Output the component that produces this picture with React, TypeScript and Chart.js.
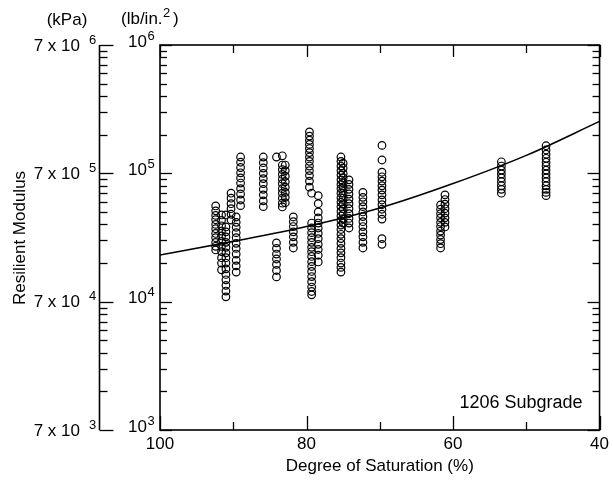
import React, { useEffect, useRef } from 'react';
import { Chart, registerables } from 'chart.js';

Chart.register(...registerables);

const FONT = 'Arial, "Liberation Sans", Helvetica, sans-serif';

// Axis ticks
const xMajorTicks = [100, 80, 60, 40];
const xMinorTicks = [90, 70, 50];
const yDecades = [1e3, 1e4, 1e5, 1e6];
const yExponents = ['3', '4', '5', '6'];
const yMinorMultipliers = [2, 3, 4, 5, 6, 7, 8, 9];
const psiBase = '10';
const kpaBase = '7 x 10';

// Scatter columns: degree of saturation (%) and resilient modulus (psi)
const columnSaturation = [
  92.4, 91.6, 91.0, 90.3, 89.6, 89.0, 85.9, 84.1, 83.3, 82.9, 81.8, 79.6, 79.3, 78.4,
  75.3, 75.0, 74.2, 72.3, 69.7, 61.7, 61.1, 53.4, 47.3,
];
const columnModulus = [
  [55700, 51000, 47000, 43500, 40000, 37000, 34000, 31500, 29000, 27000, 25300],
  [47400, 43000, 39000, 35500, 32500, 29500, 27000, 24500, 22000, 20000, 17700],
  [47400, 38200, 35000, 32000, 29000, 26500, 24000, 22000, 20000, 18000, 16300, 14800, 13400, 12100, 10900],
  [70000, 64000, 58000, 53000, 48000, 43300],
  [45700, 41500, 38000, 34500, 31500, 28500, 26000, 23500, 21000, 19000, 17000],
  [134000, 122000, 111000, 101000, 92000, 84000, 76000, 69000, 62000, 56000],
  [134000, 121000, 110000, 100000, 91000, 83000, 75000, 68000, 61000, 55000],
  [134000, 28700, 26000, 23500, 21500, 19500, 17500, 15600],
  [137000, 116000, 107000, 98000, 90000, 83000, 76000, 70000, 64000, 58500, 54700],
  [116000, 105000, 95000, 86000, 78000, 71000, 65000, 59000],
  [45700, 42000, 38500, 35000, 32000, 29000, 26200],
  [210000, 195000, 181000, 168000, 156000, 145000, 134000, 124000, 114000, 105000, 96000, 87000, 78000],
  [70000, 41000, 37500, 34500, 31500, 29000, 26500, 24500, 22500, 20500, 18800, 17200, 15700, 14300, 13000, 12000, 11300],
  [67000, 58000, 50000, 45000, 41000, 37500, 34000, 31000, 28000, 25500, 23000, 20400],
  [134000, 124000, 114000, 105000, 97000, 89000, 82000, 76000, 70000, 64500, 59500, 55000, 50500, 46500, 43000, 39500, 36500, 33500, 31000, 28500, 26000, 24000, 22000, 20000, 18500, 17000],
  [120000, 110000, 100000, 92000, 84000, 77000, 70000, 64000, 58000, 53000, 48000, 44000, 41000],
  [89000, 82000, 75000, 69000, 63000, 58000, 53000, 48500, 44500, 41000, 37500],
  [71000, 65000, 60000, 55000, 50000, 46000, 42000, 38500, 35000, 32000, 29000, 26200],
  [165000, 127000, 102000, 94000, 87000, 80000, 74000, 68000, 62000, 57000, 52500, 48000, 44000, 31000, 28000],
  [56700, 52500, 48500, 45000, 41500, 38500, 35500, 33000, 30500, 28300, 26200],
  [68000, 62500, 57500, 53000, 49000, 45000, 41500, 38200],
  [123000, 114000, 106000, 99000, 92000, 86000, 80000, 75000, 70000],
  [164000, 152000, 141000, 131000, 122000, 114000, 106000, 99000, 92000, 86000, 80000, 75000, 71000, 67000],
];

// Fitted trend curve
const curveSaturation = [100, 90, 80, 70, 60, 50, 40];
const curveModulus = [23100, 29500, 38500, 53700, 83200, 138000, 254000];

const annotationText = '1206 Subgrade';
const xTitle = 'Degree of Saturation (%)';
const yTitle = 'Resilient Modulus';

const axesPlugin = {
  id: 'customAxes',
  afterDraw(chart: any) {
    const { ctx, chartArea } = chart;
    const { left, right, top, bottom } = chartArea;
    const xs = chart.scales.x;
    const ys = chart.scales.y;
    const kpaX = 99.5;
    ctx.save();
    ctx.strokeStyle = '#000';
    ctx.fillStyle = '#000';

    // frame
    ctx.lineWidth = 1.6;
    ctx.strokeRect(left, top, right - left, bottom - top);
    // kPa axis line
    ctx.beginPath();
    ctx.moveTo(kpaX, top);
    ctx.lineTo(kpaX, bottom);
    ctx.stroke();

    ctx.lineWidth = 1.3;
    const hLine = (x1: number, x2: number, yy: number) => {
      ctx.beginPath();
      ctx.moveTo(x1, yy);
      ctx.lineTo(x2, yy);
      ctx.stroke();
    };
    const vLine = (xx: number, y1: number, y2: number) => {
      ctx.beginPath();
      ctx.moveTo(xx, y1);
      ctx.lineTo(xx, y2);
      ctx.stroke();
    };

    // y ticks
    yDecades.forEach((d, i) => {
      const py = Math.round(ys.getPixelForValue(d)) + 0.5;
      hLine(left, left + 12, py);
      hLine(right, right - 12, py);
      hLine(kpaX, kpaX + 14, py);
      if (i < yDecades.length - 1) {
        yMinorMultipliers.forEach((m) => {
          const my = Math.round(ys.getPixelForValue(m * d)) + 0.5;
          hLine(left, left + 7, my);
          hLine(right, right - 7, my);
          hLine(kpaX, kpaX + 8, my);
        });
      }
    });

    // x ticks
    xMajorTicks.forEach((v) => {
      const px = Math.round(xs.getPixelForValue(v)) + 0.5;
      vLine(px, bottom, bottom - 14);
      vLine(px, top, top + 12);
    });
    xMinorTicks.forEach((v) => {
      const px = Math.round(xs.getPixelForValue(v)) + 0.5;
      vLine(px, bottom, bottom - 8);
      vLine(px, top, top + 8);
    });

    // y labels
    const mainFont = `17px ${FONT}`;
    const supFont = `13px ${FONT}`;
    ctx.textBaseline = 'middle';
    yDecades.forEach((d, i) => {
      const py = ys.getPixelForValue(d);
      // psi labels
      ctx.font = mainFont;
      ctx.textAlign = 'right';
      ctx.fillText(psiBase, 147, py - 3);
      ctx.font = supFont;
      ctx.textAlign = 'left';
      ctx.fillText(yExponents[i], 147.5, py - 9);
      // kPa labels
      ctx.font = mainFont;
      ctx.textAlign = 'right';
      ctx.fillText(kpaBase, 80, py + 1);
      ctx.font = supFont;
      ctx.textAlign = 'left';
      ctx.fillText(yExponents[i], 89, py - 5);
    });

    // unit headers
    ctx.font = mainFont;
    ctx.textAlign = 'center';
    ctx.fillText('(kPa)', 67, 20);
    ctx.textAlign = 'left';
    ctx.fillText('(lb/in.', 121, 19);
    const w = ctx.measureText('(lb/in.').width;
    ctx.font = supFont;
    ctx.fillText('2', 121 + w + 0.5, 13);
    ctx.font = mainFont;
    ctx.fillText(')', 121 + w + 10.5, 19);

    // y title
    ctx.save();
    ctx.translate(20, 238);
    ctx.rotate(-Math.PI / 2);
    ctx.textAlign = 'center';
    ctx.fillText(yTitle, 0, 0);
    ctx.restore();

    // annotation
    ctx.font = `18px ${FONT}`;
    ctx.textAlign = 'right';
    ctx.fillText(annotationText, right - 17, 403);

    ctx.restore();
  },
};

export default function App() {
  const canvasRef = useRef<HTMLCanvasElement | null>(null);

  useEffect(() => {
    const canvas = canvasRef.current;
    if (!canvas) return;
    const points = columnModulus.flatMap((col, i) =>
      col.map((v) => ({ x: columnSaturation[i], y: v }))
    );
    const curve = curveSaturation.map((s, i) => ({ x: s, y: curveModulus[i] }));

    const chart = new Chart(canvas, {
      type: 'scatter',
      data: {
        datasets: [
          {
            type: 'line',
            data: curve,
            borderColor: '#000',
            borderWidth: 1.6,
            pointRadius: 0,
            cubicInterpolationMode: 'monotone',
            fill: false,
            order: 2,
          } as any,
          {
            type: 'scatter',
            data: points,
            pointRadius: 3.8,
            pointBorderWidth: 1.2,
            pointBorderColor: '#000',
            pointBackgroundColor: 'rgba(0,0,0,0)',
            showLine: false,
            order: 1,
          } as any,
        ],
      },
      options: {
        animation: false,
        responsive: false,
        maintainAspectRatio: false,
        devicePixelRatio: 1,
        events: [],
        layout: { padding: { left: 160, right: 11, top: 45, bottom: 0 } },
        plugins: { legend: { display: false }, tooltip: { enabled: false } },
        scales: {
          x: {
            type: 'linear',
            reverse: true,
            min: 40,
            max: 100,
            afterFit: (s: any) => {
              s.height = 53;
            },
            grid: { display: false, drawTicks: false },
            border: { display: false },
            ticks: {
              stepSize: 20,
              autoSkip: false,
              maxRotation: 0,
              padding: 4,
              color: '#000',
              font: { family: FONT, size: 17 },
            },
            title: {
              display: true,
              text: xTitle,
              color: '#000',
              font: { family: FONT, size: 17 },
              padding: { top: 0, bottom: 6 },
            },
          },
          y: {
            type: 'logarithmic',
            min: 1000,
            max: 1000000,
            display: false,
          },
        },
      } as any,
      plugins: [axesPlugin],
    });
    return () => chart.destroy();
  }, []);

  return (
    <div style={{ position: 'absolute', left: 0, top: 0, width: 613, height: 483, background: '#fff' }}>
      <canvas ref={canvasRef} width={613} height={483} style={{ display: 'block', width: 613, height: 483 }} />
    </div>
  );
}
